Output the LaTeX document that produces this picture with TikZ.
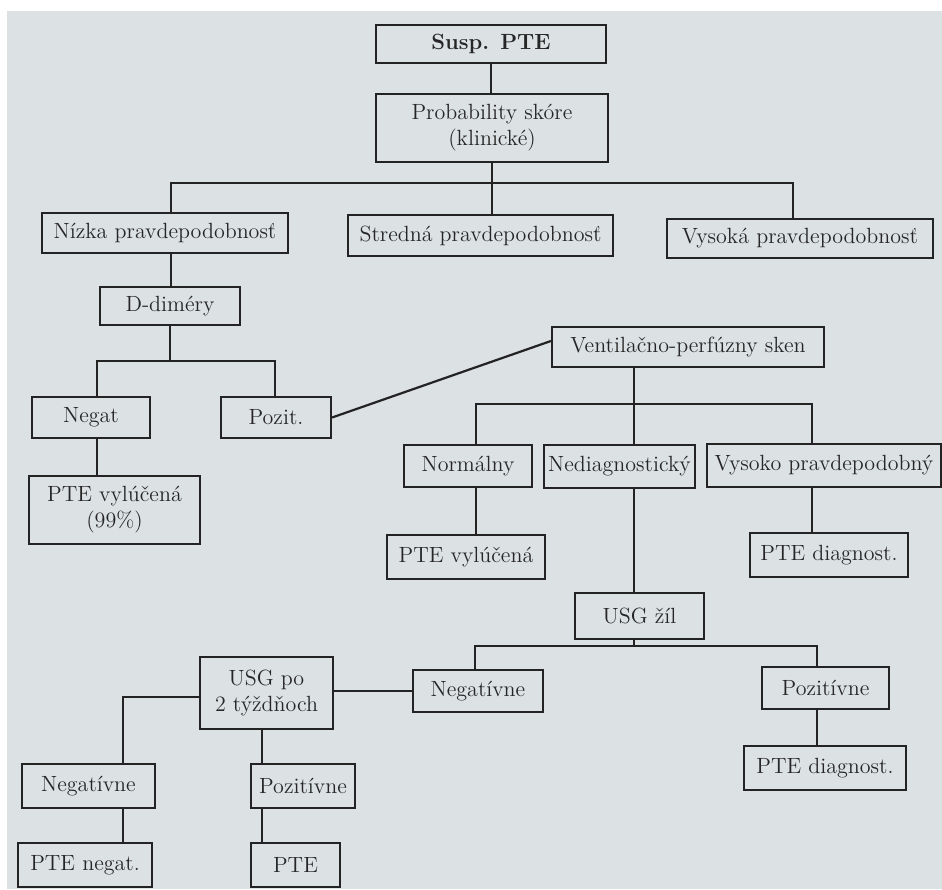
\documentclass[tikz,border=0pt]{standalone}
\usepackage{fontspec}
\usepackage{tikz}
\usetikzlibrary{positioning,calc}
\definecolor{bgc}{RGB}{220,225,228}
\definecolor{linec}{RGB}{35,35,35}
\definecolor{txtc}{RGB}{38,38,38}

\begin{document}
\begin{tikzpicture}[x=0.5pt, y=-0.5pt, font=\fontsize{11}{13}\selectfont]
\tikzstyle{box}=[draw=linec, line width=1.1pt, align=center, inner xsep=1pt, inner ysep=1pt, text=txtc]
\tikzstyle{link}=[draw=linec, line width=1.1pt]
% scanned page
\useasboundingbox (0,0) rectangle (942,889);
\fill[white] (0,0) rectangle (942,889);
\fill[bgc] (7,11) rectangle (942,889);
% top
\node[box, minimum width=115pt, minimum height=19pt] (susp) at (491,44) {\bfseries Susp. PTE};
\node[box, minimum width=116pt, minimum height=34pt] (prob) at (492,128) {Probability skóre\\(klinické)};
\node[box, minimum width=123pt, minimum height=20pt] (nizka) at (165,233) {Nízka pravdepodobnosť};
\node[box, minimum width=132.5pt, minimum height=20.5pt] (stred) at (480.5,235.5) {Stredná pravdepodobnosť};
\node[box, minimum width=133pt, minimum height=19.5pt] (vysoka) at (800,238.5) {Vysoká pravdepodobnosť};
% D-dimery
\node[box, minimum width=70pt, minimum height=19pt] (ddim) at (170,306) {D-diméry};
\node[box, minimum width=59pt, minimum height=20.5pt] (negat) at (91,417.5) {Negat};
\node[box, minimum width=55pt, minimum height=20.5pt] (pozit) at (276,417.5) {Pozit.};
\node[box, minimum width=85.5pt, minimum height=34pt] (vyl99) at (114.5,510) {PTE vylúčená\\(99\%)};
% V/Q sken
\node[box, minimum width=136pt, minimum height=20pt] (vent) at (688,347) {Ventilačno-perfúzny sken};
\node[box, minimum width=64pt, minimum height=21pt] (normal) at (468,466) {Normálny};
\node[box, minimum width=75.5pt, minimum height=21.5pt] (nediag) at (619.5,466.5) {Nediagnostický};
\node[box, minimum width=117pt, minimum height=21.5pt] (vyspr) at (824,465.5) {Vysoko pravdepodobný};
\node[box, minimum width=79pt, minimum height=22pt] (vyl) at (466,557) {PTE vylúčená};
\node[box, minimum width=79pt, minimum height=22pt] (diag1) at (829,555) {PTE diagnost.};
% USG
\node[box, minimum width=64.5pt, minimum height=23pt] (usg) at (639.5,616) {USG žíl};
\node[box, minimum width=65pt, minimum height=21pt] (neg2) at (478,691) {Negatívne};
\node[box, minimum width=63.5pt, minimum height=21pt] (poz2) at (825.5,688) {Pozitívne};
\node[box, minimum width=81pt, minimum height=22pt] (diag2) at (825,768) {PTE diagnost.};
\node[box, minimum width=66.5pt, minimum height=36pt] (usg2) at (266.5,693) {USG po\\2 týždňoch};
\node[box, minimum width=66.5pt, minimum height=22pt] (neg3) at (88.5,786) {Negatívne};
\node[box, minimum width=52pt, minimum height=22pt] (poz3) at (303,786) {Pozitívne};
\node[box, minimum width=67pt, minimum height=22pt] (pteneg) at (85,865) {PTE negat.};
\node[box, minimum width=44.5pt, minimum height=22pt] (pte) at (295.5,865) {PTE};
% junctions
\coordinate (j1) at (171,183);
\coordinate (j2) at (793,183);
\coordinate (j3) at (97,361);
\coordinate (j4) at (275,361);
\coordinate (j5) at (476,404);
\coordinate (j6) at (812,404);
\coordinate (j7) at (634,404);
\coordinate (j8) at (475,646);
\coordinate (j9) at (817,646);
\coordinate (j10) at (123,697);
\coordinate (j11) at (262,764);
% connectors
\draw[link] (susp.south) -- (susp.south |- prob.north);
\draw[link] (prob.south) -- (prob.south |- stred.north);
\draw[link] (j1 |- nizka.north) -- (j1) -- (j2) -- (j2 |- vysoka.north);
\draw[link] (j1 |- nizka.south) -- (j1 |- ddim.north);
\draw[link] (ddim.south) -- (ddim.south |- j3);
\draw[link] (j3 |- negat.north) -- (j3) -- (j4) -- (j4 |- pozit.north);
\draw[link] (j3 |- negat.south) -- (j3 |- vyl99.north);
\draw[link] (pozit.east) -- ([yshift=3pt]vent.west);
\draw[link] (j7 |- vent.south) -- (j7 |- nediag.north);
\draw[link] (j5 |- normal.north) -- (j5) -- (j6) -- (j6 |- vyspr.north);
\draw[link] (j5 |- normal.south) -- (j5 |- vyl.north);
\draw[link] (j6 |- vyspr.south) -- (j6 |- diag1.north);
\draw[link] (j7 |- nediag.south) -- (j7 |- usg.north);
\draw[link] (j7 |- usg.south) -- (j7 |- j8);
\draw[link] (j8 |- neg2.north) -- (j8) -- (j9) -- (j9 |- poz2.north);
\draw[link] (j9 |- poz2.south) -- (j9 |- diag2.north);
\draw[link] (neg2.west) -- (usg2.east |- neg2.west);
\draw[link] (usg2.west |- j10) -- (j10) -- (j10 |- neg3.north);
\draw[link] (j10 |- neg3.south) -- (j10 |- pteneg.north);
\draw[link] (j11 |- usg2.south) -- (j11 |- poz3.north);
\draw[link] (j11 |- poz3.south) -- (j11 |- pte.north);
\end{tikzpicture}
\end{document}
